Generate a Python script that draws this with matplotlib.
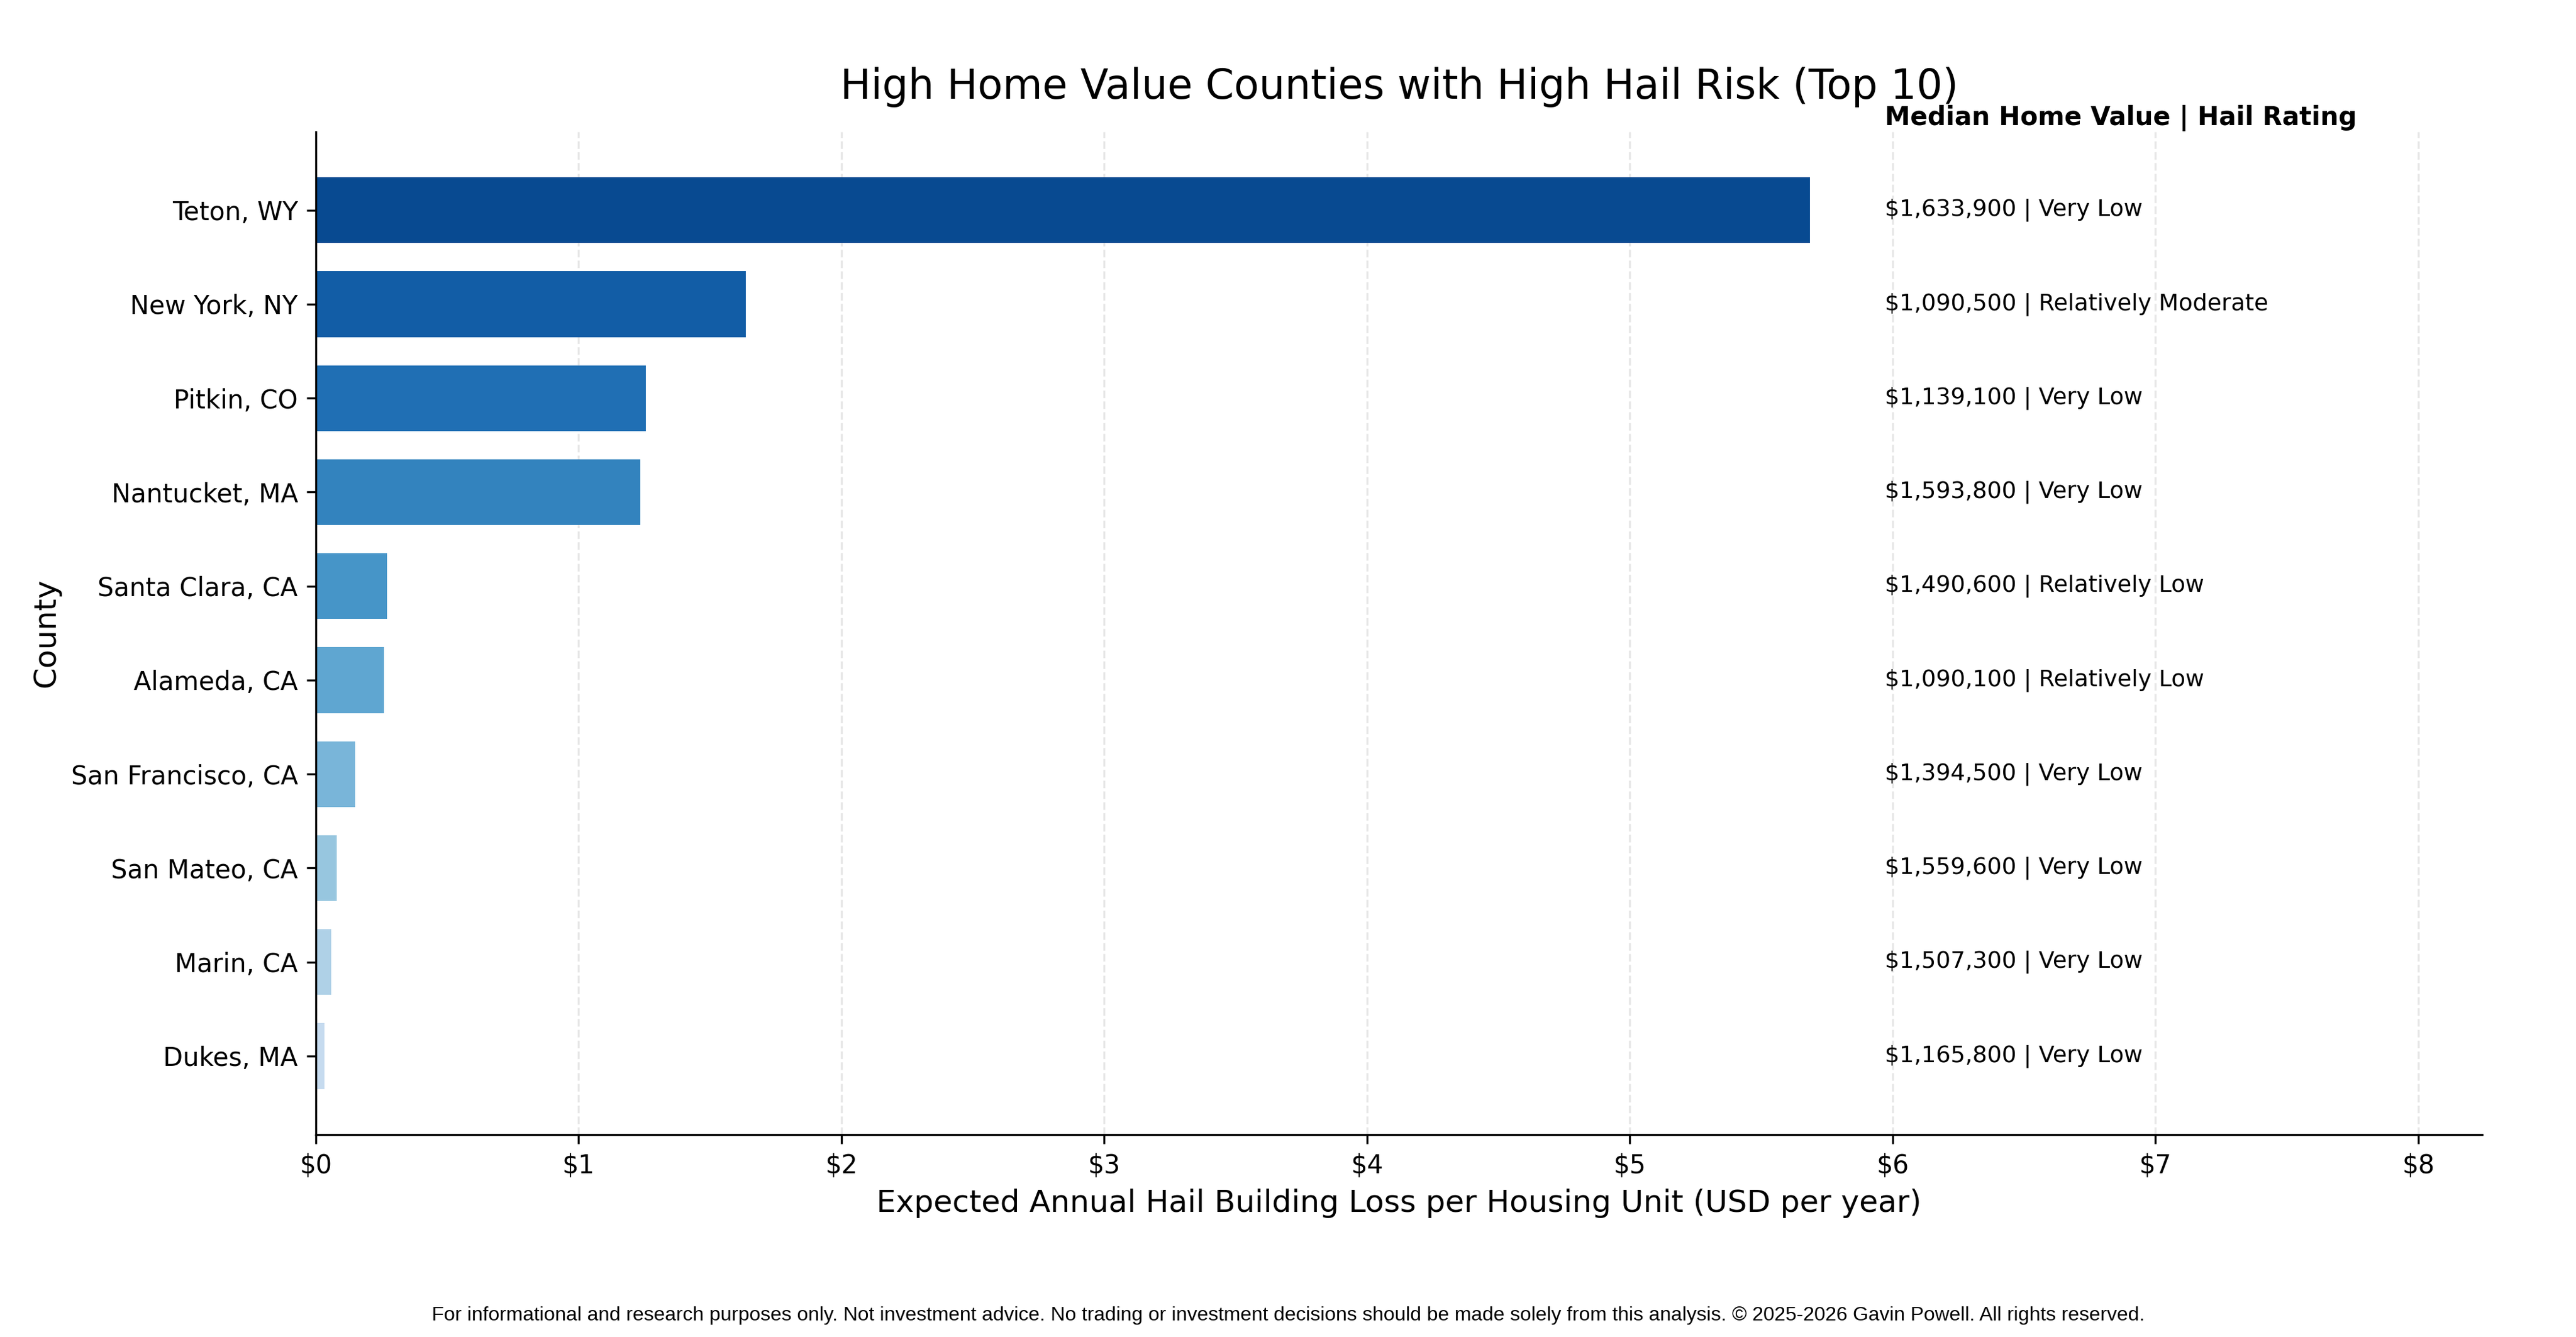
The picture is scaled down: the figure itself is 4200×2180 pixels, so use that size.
import numpy as np
import matplotlib
matplotlib.use('Agg')
import matplotlib.pyplot as plt

plt.rcParams['font.family'] = ['DejaVu Sans']

# data, top to bottom
counties = ['Teton, WY', 'New York, NY', 'Pitkin, CO', 'Nantucket, MA',
            'Santa Clara, CA', 'Alameda, CA', 'San Francisco, CA',
            'San Mateo, CA', 'Marin, CA', 'Dukes, MA']
hail_loss = [5.685, 1.636, 1.255, 1.234, 0.271, 0.259, 0.149, 0.079, 0.058, 0.034]
home_value = [1633900, 1090500, 1139100, 1593800, 1490600,
              1090100, 1394500, 1559600, 1507300, 1165800]
hail_rating = ['Very Low', 'Relatively Moderate', 'Very Low', 'Very Low',
               'Relatively Low', 'Relatively Low', 'Very Low', 'Very Low',
               'Very Low', 'Very Low']

footer = ('For informational and research purposes only. Not investment advice. '
          'No trading or investment decisions should be made solely from this analysis. '
          '\u00a9 2025-2026 Gavin Powell. All rights reserved.')

fig, ax = plt.subplots(figsize=(14, 2180 / 300), dpi=300)
fig.subplots_adjust(left=0.1226, right=0.9636, top=0.9015, bottom=0.1514)

y = np.arange(len(counties))
colors = plt.cm.Blues(np.linspace(0.9, 0.25, len(counties)))
ax.barh(y, hail_loss, height=0.7, color=colors)
ax.set_yticks(y)
ax.set_yticklabels(counties, fontsize=10)
ax.invert_yaxis()

xmax = max(hail_loss)
ax.set_xlim(0, xmax * 1.45)
ax.xaxis.set_major_formatter(matplotlib.ticker.FuncFormatter(lambda v, p: f'${v:.0f}'))
ax.tick_params(axis='x', labelsize=10)

# text column to the right of the bars
tx = xmax * 1.05
for i in range(len(counties)):
    ax.text(tx, y[i], f'${home_value[i]:,} | {hail_rating[i]}', va='center', ha='left', fontsize=9)
ax.text(tx, -0.98, 'Median Home Value | Hail Rating', va='center', ha='left',
        fontsize=10, fontweight='bold')

ax.grid(axis='x', linestyle='--', alpha=0.3)
ax.set_axisbelow(True)
ax.spines['top'].set_visible(False)
ax.spines['right'].set_visible(False)

ax.set_title('High Home Value Counties with High Hail Risk (Top 10)', fontsize=16, pad=13)
ax.set_xlabel('Expected Annual Hail Building Loss per Housing Unit (USD per year)', fontsize=12)
ax.set_ylabel('County', fontsize=12)

fig.text(0.5, 0.016, footer, ha='center', va='center', fontsize=7.8,
         family=['Liberation Sans', 'DejaVu Sans'])

fig.savefig('out.png', dpi=300)
